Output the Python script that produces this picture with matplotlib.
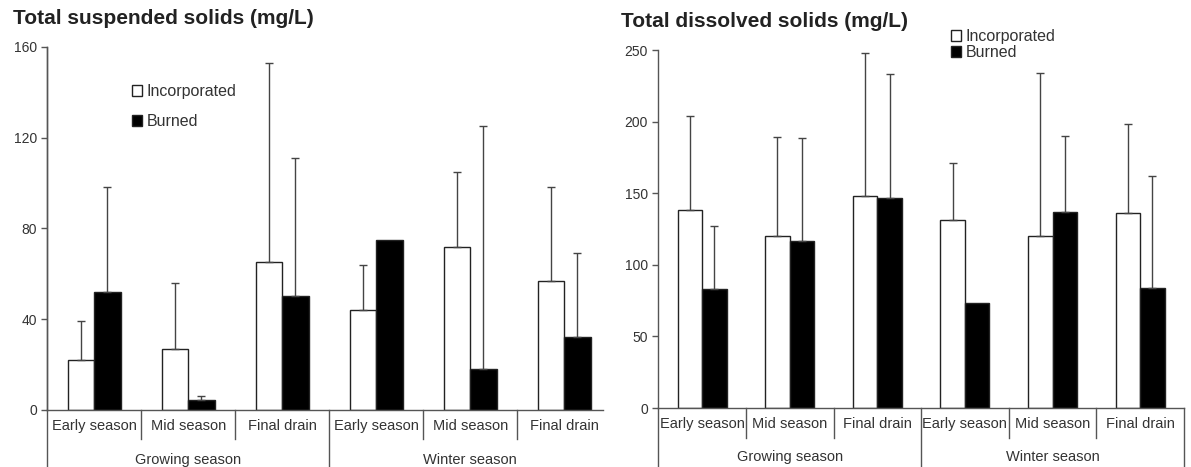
import numpy as np
import matplotlib
matplotlib.use('Agg')
import matplotlib.pyplot as plt
from matplotlib.patches import Patch

plt.rcParams['font.family'] = ['Liberation Sans', 'DejaVu Sans']

stages = ['Early season', 'Mid season', 'Final drain', 'Early season', 'Mid season', 'Final drain']
seasons = ['Growing season', 'Winter season']
series_names = ['Incorporated', 'Burned']

# total suspended solids (mg/L): means and upper error
tss_inc = [22, 27, 65, 44, 72, 57]
tss_inc_err = [17, 29, 88, 20, 33, 41]
tss_burn = [52, 4.5, 50, 75, 18, 32]
tss_burn_err = [46, 1.5, 61, 0, 107, 37]

# total dissolved solids (mg/L)
tds_inc = [138, 120, 148, 131, 120, 136]
tds_inc_err = [66, 69, 100, 40, 114, 62]
tds_burn = [83, 116.5, 147, 73, 137, 84]
tds_burn_err = [44, 72, 86, 0, 53, 78]

txt = '#333333'
line = '#555555'


def draw_panel(ax, inc, inc_err, burn, burn_err, ymax, ystep, xright, sep_depth, grp_depth):
    x = np.arange(len(stages))
    w = 0.28
    for vals, errs, fc, off in [(inc, inc_err, 'white', -w / 2), (burn, burn_err, 'black', w / 2)]:
        ax.bar(x + off, vals, w, color=fc, edgecolor='#222222', linewidth=1.0, zorder=2)
        e = np.array(errs, dtype=float)
        keep = e > 0
        ax.errorbar((x + off)[keep], np.array(vals)[keep], yerr=[np.zeros(keep.sum()), e[keep]],
                    fmt='none', ecolor='#444444', elinewidth=1.0, capsize=3, capthick=1.0, zorder=3)
    ax.set_xlim(-0.5, xright)
    ax.set_ylim(0, ymax)
    ax.set_yticks(np.arange(0, ymax + 1, ystep))
    ax.set_xticks([])
    for s in ['top', 'right']:
        ax.spines[s].set_visible(False)
    for s in ['left', 'bottom']:
        ax.spines[s].set_color(line)
        ax.spines[s].set_linewidth(1.0)
    ax.tick_params(axis='y', colors=line, labelcolor=txt, labelsize=10, length=4, width=1)

    tr = ax.get_xaxis_transform()
    # category labels and separators below the axis
    for i, lab in enumerate(stages):
        ax.text(i, -0.045, lab, transform=tr, ha='center', va='center', fontsize=10.5, color=txt)
    for k in [0.5, 1.5, 3.5, 4.5]:
        ax.plot([k, k], [0, -sep_depth], transform=tr, color=line, lw=1, clip_on=False)
    for k in [-0.5, 2.5, 5.5]:
        if k <= xright:
            ax.plot([k, k], [0, -grp_depth], transform=tr, color=line, lw=1, clip_on=False)
    for j, lab in enumerate(seasons):
        ax.text(1 + 3 * j, -0.137, lab, transform=tr, ha='center', va='center', fontsize=10.5, color=txt)
    return ax


fig = plt.figure(figsize=(11.91, 4.67), dpi=100)

ax1 = fig.add_axes([0.0397, 0.1221, 0.4666, 0.7779])
draw_panel(ax1, tss_inc, tss_inc_err, tss_burn, tss_burn_err, 160, 40, 5.412, 0.0798, 0.16)
ax1.plot([-0.5, -0.5], [0, 1], transform=ax1.get_xaxis_transform(), color=line, lw=1, clip_on=False)

ax2 = fig.add_axes([0.5527, 0.1263, 0.4414, 0.7666])
draw_panel(ax2, tds_inc, tds_inc_err, tds_burn, tds_burn_err, 250, 50, 5.5, 0.0838, 0.17)

fig.text(0.0107, 0.961, 'Total suspended solids (mg/L)', fontsize=15, fontweight='bold',
         color='#222222', ha='left', va='center')
fig.text(0.521, 0.953, 'Total dissolved solids (mg/L)', fontsize=15, fontweight='bold',
         color='#222222', ha='left', va='center')

# legends
handles = [Patch(facecolor='white', edgecolor='#222222', linewidth=1),
           Patch(facecolor='black', edgecolor='#222222', linewidth=1)]
fig.legend(handles, series_names, loc='upper left', bbox_to_anchor=(0.0985, 0.85), frameon=False,
           fontsize=11.5, handlelength=0.65, handleheight=0.65, handletextpad=0.3, labelspacing=0.9,
           labelcolor=txt)
fig.legend(handles, series_names, loc='upper left', bbox_to_anchor=(0.786, 0.968), frameon=False,
           fontsize=11.5, handlelength=0.65, handleheight=0.65, handletextpad=0.3, labelspacing=0.05,
           labelcolor=txt)

fig.savefig('out.png', dpi=100)
